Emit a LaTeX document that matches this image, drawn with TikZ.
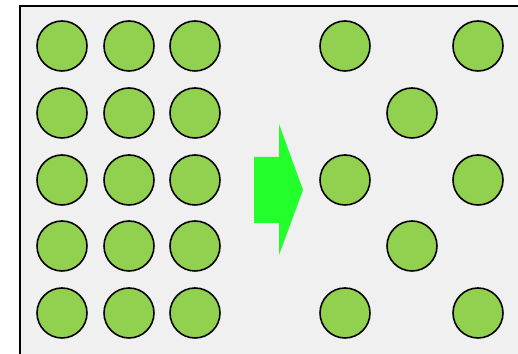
\documentclass[tikz,border=0pt]{standalone}
\usepackage{tikz}
\usepackage{xcolor}
\definecolor{dotgreen}{HTML}{92D050}
\definecolor{arrowgreen}{HTML}{22FF2A}
\begin{document}
\begin{tikzpicture}[
    dot/.style={draw, circle, fill=dotgreen, line width=0.9pt, minimum size=1.0cm, inner sep=0pt},
    frame/.style={draw=black, line width=0.8pt, fill=black!6}
]
\useasboundingbox (0,0) rectangle (10.36,7.08);
\fill[frame] (0.4,-0.2) rectangle (10.6,6.96);
% left block, three columns by five rows
\node[dot] (l11) at (1.24,6.16) {};
\node[dot] (l12) at (2.58,6.16) {};
\node[dot] (l13) at (3.90,6.16) {};
\node[dot] (l21) at (1.24,4.82) {};
\node[dot] (l22) at (2.58,4.82) {};
\node[dot] (l23) at (3.90,4.82) {};
\node[dot] (l31) at (1.24,3.48) {};
\node[dot] (l32) at (2.58,3.48) {};
\node[dot] (l33) at (3.90,3.48) {};
\node[dot] (l41) at (1.24,2.16) {};
\node[dot] (l42) at (2.58,2.16) {};
\node[dot] (l43) at (3.90,2.16) {};
\node[dot] (l51) at (1.24,0.82) {};
\node[dot] (l52) at (2.58,0.82) {};
\node[dot] (l53) at (3.90,0.82) {};
% right block, thinned out
\node[dot] (r11) at (6.90,6.16) {};
\node[dot] (r13) at (9.56,6.16) {};
\node[dot] (r22) at (8.24,4.82) {};
\node[dot] (r31) at (6.90,3.48) {};
\node[dot] (r33) at (9.56,3.48) {};
\node[dot] (r42) at (8.24,2.16) {};
\node[dot] (r51) at (6.90,0.82) {};
\node[dot] (r53) at (9.56,0.82) {};
% block arrow
\fill[arrowgreen] (5.08,3.94) -- (5.58,3.94) -- (5.58,4.60) -- (6.06,3.28)
    -- (5.58,1.98) -- (5.58,2.62) -- (5.08,2.62) -- cycle;
\end{tikzpicture}
\end{document}
